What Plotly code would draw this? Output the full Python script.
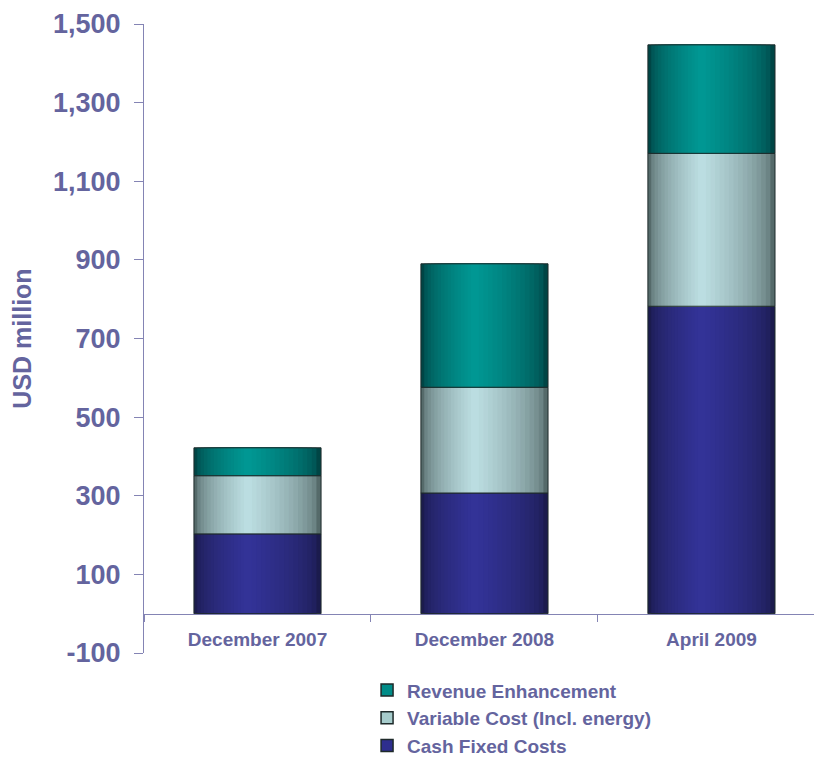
import plotly.graph_objects as go

categories = ["December 2007", "December 2008", "April 2009"]
cash_fixed = [203, 307, 782]
variable_cost = [148, 269, 389]
revenue_enh = [71, 314, 276]
y_ticks = [-100, 100, 300, 500, 700, 900, 1100, 1300, 1500]
y_tick_labels = ["-100", "100", "300", "500", "700", "900", "1,100", "1,300", "1,500"]
y_min, y_max = -100, 1500

TEXT = "#64649e"
AXIS = "#8484b4"
FONT = "Liberation Sans, Arial, sans-serif"


def hex2rgb(h):
    h = h.lstrip("#")
    return tuple(int(h[i:i + 2], 16) for i in (0, 2, 4))


def mix(c1, c2, t):
    a, b = hex2rgb(c1), hex2rgb(c2)
    return "rgb(%d,%d,%d)" % tuple(round(a[i] + (b[i] - a[i]) * t) for i in range(3))


series = [
    ("Cash Fixed Costs", cash_fixed, "#1b1b4d", "#34349a", "#2e2e8e"),
    ("Variable Cost (Incl. energy)", variable_cost, "#556a6a", "#bfe1e5", "#a6cccc"),
    ("Revenue Enhancement", revenue_enh, "#004545", "#009a96", "#008c88"),
]

fig = go.Figure()
W = 0.56
N = 16
a_left = 0.42
base = [0] * len(categories)
for name, vals, edge, center, legend_col in series:
    for k in range(N):
        f = k / N
        col = mix(edge, center, f ** 0.55)
        fig.add_trace(go.Bar(
            x=categories, y=vals, base=base,
            width=W * (1 - f), offset=-W / 2 + W * a_left * f,
            marker=dict(color=col, line=dict(width=0)),
            showlegend=False, hoverinfo="skip"))
    fig.add_trace(go.Bar(
        x=categories, y=vals, base=base, width=W, offset=-W / 2,
        marker=dict(color="rgba(0,0,0,0)", line=dict(width=1, color="#1e2a2a")),
        showlegend=False, hoverinfo="skip"))
    fig.add_trace(go.Bar(
        x=[categories[0]], y=[None], name=name,
        marker=dict(color=legend_col, line=dict(width=1.5, color="#1e2a2a")),
        showlegend=True))
    base = [b + v for b, v in zip(base, vals)]

fig.update_layout(
    width=814, height=750,
    margin=dict(l=136, r=0, t=16, b=105, autoexpand=False),
    barmode="overlay",
    plot_bgcolor="white", paper_bgcolor="white",
    font=dict(family=FONT, color=TEXT),
    legend=dict(
        orientation="v", traceorder="reversed",
        x=0.329, xanchor="left", y=-0.029, yanchor="top",
        font=dict(size=19, family=FONT, color=TEXT, weight="bold"),
        bgcolor="rgba(0,0,0,0)",
    ),
    xaxis=dict(
        type="category", range=[-0.5, 2.487], automargin=False,
        anchor="free", position=(0 - y_min) / (y_max - y_min),
        showline=True, linecolor=AXIS, linewidth=1,
        ticks="outside", tickson="boundaries", ticklen=7, tickcolor=AXIS,
        ticklabelstandoff=9,
        showgrid=False,
        tickfont=dict(size=19, family=FONT, color=TEXT, weight="bold"),
    ),
    yaxis=dict(
        range=[y_min, y_max], tickvals=y_ticks, ticktext=y_tick_labels,
        automargin=False,
        showline=True, linecolor=AXIS, linewidth=1,
        ticks="outside", ticklen=9, tickcolor=AXIS, ticklabelstandoff=8,
        showgrid=False, zeroline=False,
        tickfont=dict(size=27, family=FONT, color=TEXT, weight="bold"),
        title=dict(text="USD million", standoff=14,
                   font=dict(size=25, family=FONT, color=TEXT, weight="bold")),
    ),
)

fig.write_html("out.html")
